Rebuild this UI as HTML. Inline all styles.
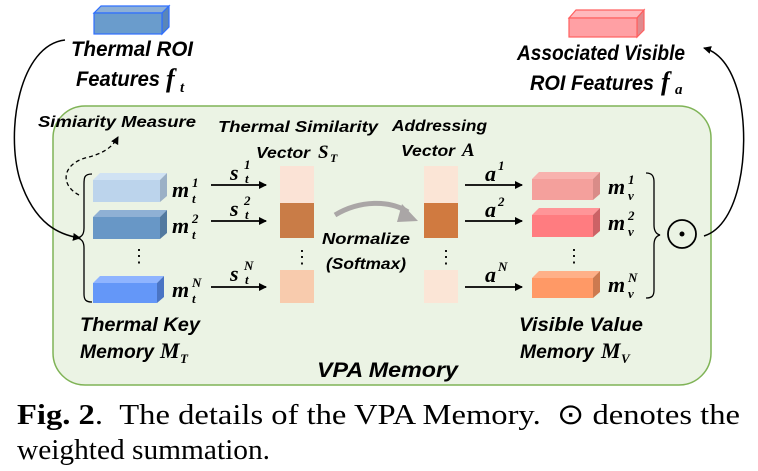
<!DOCTYPE html>
<html><head><meta charset="utf-8"><style>
body{margin:0;background:#fff;width:758px;height:471px;overflow:hidden}
svg{display:block}
.l{font-family:"Liberation Sans",sans-serif;font-weight:bold;font-style:italic;fill:#000}
.m{font-family:"Liberation Serif",serif;font-weight:bold;font-style:italic;fill:#000}
.c{font-family:"Liberation Serif",serif;fill:#000}
</style></head><body>
<svg width="758" height="471" viewBox="0 0 758 471">
<defs>
<marker id="ah" markerWidth="8" markerHeight="8" refX="7" refY="4" orient="auto" markerUnits="userSpaceOnUse"><path d="M0,0 L8,4 L0,8 z" fill="#000"/></marker>
</defs>
<rect x="53" y="106" width="658" height="279" rx="32" fill="#ebf3e4" stroke="#7fb356" stroke-width="1.5"/>
<g stroke="#2f6fff" stroke-width="1.2"><polygon points="94,13 101,6 169,6 162,13" fill="#8db0d6"/><polygon points="162,13 169,6 169,27 162,34" fill="#5a86b8"/><rect x="94" y="13" width="68" height="21" fill="#6a9ccc"/></g>
<g stroke="#ff6060" stroke-width="1.2"><polygon points="569,18 576,10 644,10 637,18" fill="#ffb8bc"/><polygon points="637,18 644,10 644,30 637,37" fill="#e08a8e"/><rect x="569" y="18" width="68" height="19" fill="#ffa0a4"/></g>
<text class="l" x="71" y="56" font-size="21" textLength="122" lengthAdjust="spacingAndGlyphs">Thermal ROI</text>
<text class="l" x="76" y="86" font-size="21" textLength="84" lengthAdjust="spacingAndGlyphs">Features</text><text class="m" x="166" y="87" font-size="26">f</text><text class="m" x="180" y="92" font-size="15">t</text>
<text class="l" x="517" y="60" font-size="21" textLength="168" lengthAdjust="spacingAndGlyphs">Associated Visible</text>
<text class="l" x="530" y="90" font-size="21" textLength="124" lengthAdjust="spacingAndGlyphs">ROI Features</text><text class="m" x="661" y="90" font-size="26">f</text><text class="m" x="675" y="94" font-size="15">a</text>
<path d="M65,40 C20,45 5,130 20,180 C35,225 60,235 80,238" fill="none" stroke="#000" stroke-width="1.5" marker-end="url(#ah)"/>
<path d="M704,236 C740,225 750,150 740,100 C732,65 718,52 704,48" fill="none" stroke="#000" stroke-width="1.5" marker-end="url(#ah)"/>
<path d="M79,195 C60,185 62,165 85,158 C102,154 112,148 118,137" fill="none" stroke="#000" stroke-width="1.3" stroke-dasharray="4,3" marker-end="url(#ah)"/>
<text class="l" x="38" y="127" font-size="16" textLength="158" lengthAdjust="spacingAndGlyphs">Simiarity Measure</text>
<text class="l" x="218" y="132" font-size="16" textLength="160" lengthAdjust="spacingAndGlyphs">Thermal Similarity</text>
<text class="l" x="256" y="158" font-size="16" textLength="54" lengthAdjust="spacingAndGlyphs">Vector</text><text class="m" x="318" y="158" font-size="19">S</text><text class="m" x="330" y="162" font-size="12">T</text>
<text class="l" x="392" y="131" font-size="16" textLength="95" lengthAdjust="spacingAndGlyphs">Addressing</text>
<text class="l" x="401" y="156" font-size="16" textLength="54" lengthAdjust="spacingAndGlyphs">Vector</text><text class="m" x="462" y="156" font-size="19">A</text>
<path d="M92,174 C84,174 84,178 84,184 L84,228 C84,234 82,237 77,238 C82,239 84,242 84,248 L84,294 C84,300 86,302 92,302" fill="none" stroke="#000" stroke-width="1.3"/>
<path d="M646,173 C652,173 654,176 654,182 L654,225 C654,231 656,234 660,235 C656,236 654,239 654,245 L654,290 C654,296 652,298 646,298" fill="none" stroke="#000" stroke-width="1.3"/>
<g><polygon points="93,180 100,173 167,173 160,180" fill="#d0e2f3"/><polygon points="160,180 167,173 167,196 160,202" fill="#9bb0c6"/><rect x="93" y="180" width="67" height="22" fill="#bcd4ec"/></g>
<g><polygon points="93,217 100,210 167,210 160,217" fill="#8fb0d4"/><polygon points="160,217 167,210 167,233 160,239" fill="#52799f"/><rect x="93" y="217" width="67" height="22" fill="#6897c6"/></g>
<g><polygon points="93,283 100,276 164,276 157,283" fill="#8fb4ff"/><polygon points="157,283 164,276 164,297 157,303" fill="#4a74c4"/><rect x="93" y="283" width="64" height="20" fill="#6497f8"/></g>
<text class="c" x="130" y="262" font-size="18">⋮</text>
<text class="m" x="172" y="197" font-size="22">m</text><text class="m" x="192" y="203" font-size="13">t</text><text class="m" x="192" y="187" font-size="13">1</text>
<text class="m" x="172" y="233" font-size="22">m</text><text class="m" x="192" y="239" font-size="13">t</text><text class="m" x="192" y="223" font-size="13">2</text>
<text class="m" x="172" y="297" font-size="22">m</text><text class="m" x="192" y="303" font-size="13">t</text><text class="m" x="192" y="287" font-size="13">N</text>
<g stroke="#000" stroke-width="1.8"><line x1="211" y1="185" x2="266" y2="185" marker-end="url(#ah)"/><line x1="211" y1="221" x2="266" y2="221" marker-end="url(#ah)"/><line x1="211" y1="287" x2="266" y2="287" marker-end="url(#ah)"/><line x1="465" y1="185" x2="522" y2="185" marker-end="url(#ah)"/><line x1="465" y1="221" x2="522" y2="221" marker-end="url(#ah)"/><line x1="465" y1="287" x2="522" y2="287" marker-end="url(#ah)"/></g>
<text class="m" x="230" y="180" font-size="22">s</text><text class="m" x="245" y="183" font-size="13">t</text><text class="m" x="244" y="169" font-size="13">1</text>
<text class="m" x="230" y="216" font-size="22">s</text><text class="m" x="245" y="219" font-size="13">t</text><text class="m" x="244" y="205" font-size="13">2</text>
<text class="m" x="230" y="281" font-size="22">s</text><text class="m" x="245" y="284" font-size="13">t</text><text class="m" x="244" y="270" font-size="13">N</text>
<rect x="280" y="166" width="34" height="37" fill="#fbe3d6"/><rect x="280" y="203" width="34" height="35" fill="#c97c47"/><rect x="280" y="270" width="34" height="33" fill="#f8cbad"/>
<text class="c" x="293" y="263" font-size="18">⋮</text>
<rect x="424" y="166" width="34" height="37" fill="#fbe5d6"/><rect x="424" y="203" width="34" height="35" fill="#d07a40"/><rect x="424" y="270" width="34" height="33" fill="#fbe5d6"/>
<text class="c" x="437" y="263" font-size="18">⋮</text>
<path d="M335,215 C360,200 390,200 408,212" fill="none" stroke="#aaa6a6" stroke-width="5"/>
<polygon points="402,204 418,221 397,222" fill="#aaa6a6"/>
<text class="l" x="322" y="244" font-size="16" textLength="88" lengthAdjust="spacingAndGlyphs">Normalize</text>
<text class="l" x="326" y="269" font-size="16" textLength="80" lengthAdjust="spacingAndGlyphs">(Softmax)</text>
<text class="m" x="485" y="181" font-size="22">a</text><text class="m" x="498" y="170" font-size="13">1</text>
<text class="m" x="485" y="217" font-size="22">a</text><text class="m" x="498" y="206" font-size="13">2</text>
<text class="m" x="485" y="282" font-size="22">a</text><text class="m" x="498" y="271" font-size="13">N</text>
<g><polygon points="532,179 539,172 600,172 593,179" fill="#f8b2ae"/><polygon points="593,179 600,172 600,194 593,200" fill="#d98c88"/><rect x="532" y="179" width="61" height="21" fill="#f4a09c"/></g>
<g><polygon points="532,215 539,208 600,208 593,215" fill="#ff9598"/><polygon points="593,215 600,208 600,231 593,237" fill="#cc6266"/><rect x="532" y="215" width="61" height="22" fill="#ff7c80"/></g>
<g><polygon points="532,278 539,271 600,271 593,278" fill="#ffb088"/><polygon points="593,278 600,271 600,292 593,298" fill="#cc7a50"/><rect x="532" y="278" width="61" height="20" fill="#ff9966"/></g>
<text class="c" x="565" y="262" font-size="18">⋮</text>
<text class="m" x="608" y="194" font-size="22">m</text><text class="m" x="628" y="200" font-size="13">v</text><text class="m" x="628" y="184" font-size="13">1</text>
<text class="m" x="608" y="230" font-size="22">m</text><text class="m" x="628" y="236" font-size="13">v</text><text class="m" x="628" y="220" font-size="13">2</text>
<text class="m" x="608" y="292" font-size="22">m</text><text class="m" x="628" y="298" font-size="13">v</text><text class="m" x="628" y="282" font-size="13">N</text>
<circle cx="682" cy="234" r="14" fill="none" stroke="#000" stroke-width="1.8"/><circle cx="682" cy="234" r="2.5" fill="#000"/>
<text class="l" x="80" y="331" font-size="19" textLength="120" lengthAdjust="spacingAndGlyphs">Thermal Key</text>
<text class="l" x="80" y="358" font-size="19" textLength="74" lengthAdjust="spacingAndGlyphs">Memory</text><text class="m" x="160" y="358" font-size="22">M</text><text class="m" x="180" y="363" font-size="13">T</text>
<text class="l" x="519" y="331" font-size="19" textLength="124" lengthAdjust="spacingAndGlyphs">Visible Value</text>
<text class="l" x="520" y="358" font-size="19" textLength="74" lengthAdjust="spacingAndGlyphs">Memory</text><text class="m" x="601" y="358" font-size="22">M</text><text class="m" x="621" y="363" font-size="13">V</text>
<text class="l" x="317" y="377" font-size="21" textLength="141" lengthAdjust="spacingAndGlyphs">VPA Memory</text>
<text class="c" x="17" y="424" font-size="29" textLength="723" lengthAdjust="spacingAndGlyphs"><tspan font-weight="bold">Fig. 2</tspan>.&#160;&#160;The details of the VPA Memory.&#160;&#160;⊙ denotes the</text>
<text class="c" x="17" y="459" font-size="29" textLength="253" lengthAdjust="spacingAndGlyphs">weighted summation.</text>
</svg>
</body></html>
